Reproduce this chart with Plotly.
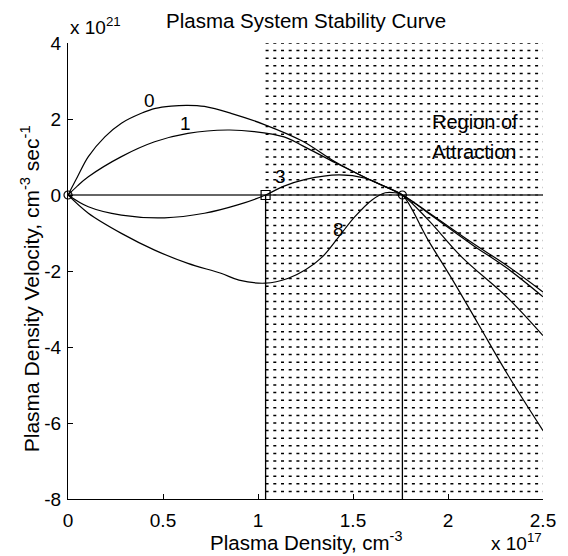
import numpy as np
import plotly.graph_objects as go

# x: plasma density in units of 1e17 cm^-3 ; y: velocity in units of 1e21 cm^-3 s^-1
c0_x = [0, 0.05, 0.107, 0.194, 0.281, 0.386, 0.46, 0.543, 0.63, 0.718, 0.858, 1.03, 1.233, 1.41, 1.58, 1.76, 1.897, 2.125, 2.317, 2.5]
c0_y = [0, 0.48, 1.01, 1.53, 1.89, 2.15, 2.28, 2.34, 2.36, 2.33, 2.15, 1.86, 1.42, 0.86, 0.42, 0, -0.46, -1.25, -1.88, -2.55]

c1_x = [0, 0.05, 0.107, 0.281, 0.456, 0.631, 0.84, 0.98, 1.137, 1.233, 1.41, 1.58, 1.76, 1.897, 2.125, 2.317, 2.5]
c1_y = [0, 0.24, 0.48, 1.01, 1.40, 1.62, 1.71, 1.67, 1.53, 1.30, 0.84, 0.42, 0, -0.48, -1.30, -1.95, -2.68]

c3_x = [0, 0.107, 0.281, 0.508, 0.718, 0.893, 1.04, 1.13, 1.25, 1.425, 1.565, 1.67, 1.76, 1.897, 2.07, 2.317, 2.5]
c3_y = [0, -0.31, -0.53, -0.60, -0.48, -0.26, 0, 0.22, 0.41, 0.53, 0.44, 0.22, 0, -0.66, -1.62, -2.72, -3.70]

c8_x = [0, 0.107, 0.281, 0.456, 0.631, 0.805, 0.90, 1.04, 1.16, 1.25, 1.34, 1.425, 1.51, 1.60, 1.67, 1.72, 1.76, 1.897, 2.02, 2.16, 2.317, 2.5]
c8_y = [0, -0.48, -1.01, -1.45, -1.80, -2.06, -2.24, -2.32, -2.19, -1.97, -1.62, -1.10, -0.57, -0.13, 0.06, 0.06, 0, -1.20, -2.20, -3.40, -4.75, -6.20]

curve_labels = ["0", "1", "3", "8"]
label_x = [0.43, 0.62, 1.12, 1.425]
label_y = [2.50, 1.89, 0.48, -0.92]

unstable_pt = [1.04, 0.0]
stable_pts_x = [0.0, 1.76]
stable_pts_y = [0.0, 0.0]

region_x = [1.04, 2.5]
hatch_levels = np.round(np.arange(-7.8, 4.001, 0.2), 2)

x_ticks = [0, 0.5, 1, 1.5, 2, 2.5]
x_tick_text = ["0", "0.5", "1", "1.5", "2", "2.5"]
y_ticks = [-8, -6, -4, -2, 0, 2, 4]
y_tick_text = ["-8", "-6", "-4", "-2", "0", "2", "4"]

FONT = "Liberation Sans, Arial, Helvetica, sans-serif"

fig = go.Figure()

# hatched region of attraction
hx, hy = [], []
for lv in hatch_levels:
    hx += [region_x[0], region_x[1], None]
    hy += [lv, lv, None]
fig.add_trace(go.Scatter(x=hx, y=hy, mode="lines",
                         line=dict(color="black", width=1.5, dash="3px,4.7px"),
                         hoverinfo="skip"))

# zero line and vertical boundaries
fig.add_trace(go.Scatter(x=[0, 2.5], y=[0, 0], mode="lines",
                         line=dict(color="#333333", width=1.6), hoverinfo="skip"))
fig.add_trace(go.Scatter(x=[unstable_pt[0], unstable_pt[0], None, stable_pts_x[1], stable_pts_x[1]],
                         y=[0, -8, None, 0, -8], mode="lines",
                         line=dict(color="black", width=1.3), hoverinfo="skip"))

for cx, cy in [(c0_x, c0_y), (c1_x, c1_y), (c3_x, c3_y), (c8_x, c8_y)]:
    fig.add_trace(go.Scatter(x=cx, y=cy, mode="lines",
                             line=dict(color="black", width=1.2, shape="spline", smoothing=1.0)))

fig.add_trace(go.Scatter(x=stable_pts_x, y=stable_pts_y, mode="markers", cliponaxis=False,
                         marker=dict(symbol="circle-open", size=8, color="black", line=dict(width=1.2))))
fig.add_trace(go.Scatter(x=[unstable_pt[0]], y=[unstable_pt[1]], mode="markers", cliponaxis=False,
                         marker=dict(symbol="square-open", size=9, color="black", line=dict(width=1.2))))


def ann(x, y, text, xref="paper", yref="paper", size=18, xanchor="center", yanchor="middle", angle=0):
    return dict(x=x, y=y, xref=xref, yref=yref, text=text, showarrow=False,
                xanchor=xanchor, yanchor=yanchor, textangle=angle,
                font=dict(family=FONT, size=size, color="black"))


annotations = []
for t, lx, ly in zip(curve_labels, label_x, label_y):
    annotations.append(ann(lx, ly, t, "x", "y", size=19))
annotations.append(ann(1.906, 1.93, "Region of", "x", "y", size=20, xanchor="left"))
annotations.append(ann(1.906, 1.14, "Attraction", "x", "y", size=20, xanchor="left"))
# titles
annotations.append(ann(0.5, 1.050, "Plasma System Stability Curve", size=20.5))
annotations.append(ann(0.0, 1.037, "x 10<sup>21</sup>", size=19, xanchor="left"))
annotations.append(ann(0.5, -0.124, "Plasma Density, cm<sup>-3</sup>", size=20.5, yanchor="bottom"))
annotations.append(ann(0.945, -0.124, "x 10<sup>17</sup>", size=19, yanchor="bottom"))
annotations.append(ann(-0.080, 0.46, "Plasma Density Velocity, cm<sup>-3</sup> sec<sup>-1</sup>", size=21, angle=-90))

fig.update_layout(
    width=568, height=556,
    margin=dict(l=68, r=23, t=43, b=57),
    paper_bgcolor="white", plot_bgcolor="white",
    showlegend=False,
    annotations=annotations,
    xaxis=dict(range=[0, 2.5], tickvals=x_ticks, ticktext=x_tick_text, ticks="inside", ticklen=5,
               tickcolor="black", showline=True, linecolor="black", linewidth=1.2, mirror=False,
               showgrid=False, zeroline=False, ticklabelstandoff=4,
               tickfont=dict(family=FONT, size=19, color="black")),
    yaxis=dict(range=[-8, 4], tickvals=y_ticks, ticktext=y_tick_text, ticks="inside", ticklen=5,
               tickcolor="black", showline=True, linecolor="black", linewidth=1.2, mirror=False,
               showgrid=False, zeroline=False, ticklabelstandoff=2,
               tickfont=dict(family=FONT, size=19, color="black")),
)

fig.write_html("out.html")
